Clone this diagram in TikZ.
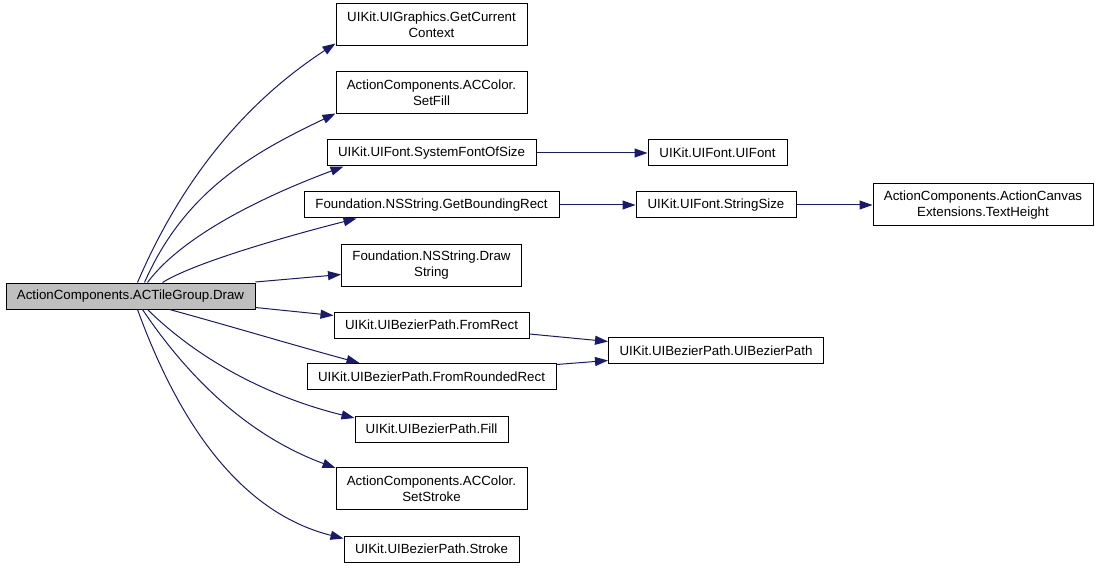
\documentclass[tikz,border=0pt]{standalone}
\usepackage{fontspec}
\setmainfont{Liberation Sans}
\usetikzlibrary{arrows.meta}
\definecolor{edgeblue}{RGB}{25,25,112}
\definecolor{rootgray}{RGB}{191,191,191}
\tikzset{
  fn/.style={draw=black, line width=1pt, fill=white, rectangle, inner sep=0pt,
    align=center, font=\fontsize{13.3}{16}\selectfont, text=black},
  rootbox/.style={fn, fill=rootgray},
  call/.style={draw=edgeblue, line width=1pt,
    -{Triangle[length=13pt,width=9pt]}, color=edgeblue}
}
\begin{document}
\begin{tikzpicture}[x=1pt,y=-1pt]
\useasboundingbox (0,0) rectangle (1099,569);

\node[rootbox, minimum width=249pt, minimum height=26pt] (root) at (130.5,296) {ActionComponents.ACTileGroup.Draw};

\node[fn, minimum width=191pt, minimum height=42pt] (gcc) at (431.5,25) {UIKit.UIGraphics.GetCurrent\\Context};
\node[fn, minimum width=191pt, minimum height=42pt] (setfill) at (431.5,93) {ActionComponents.ACColor.\\SetFill};
\node[fn, minimum width=209pt, minimum height=26pt] (sfos) at (431.5,153) {UIKit.UIFont.SystemFontOfSize};
\node[fn, minimum width=255pt, minimum height=26pt] (gbr) at (431.5,205) {Foundation.NSString.GetBoundingRect};
\node[fn, minimum width=180pt, minimum height=42pt] (drawstr) at (431.5,265) {Foundation.NSString.Draw\\String};
\node[fn, minimum width=195pt, minimum height=26pt] (fromrect) at (431.5,325) {UIKit.UIBezierPath.FromRect};
\node[fn, minimum width=249pt, minimum height=26pt] (fromrr) at (431.5,376.5) {UIKit.UIBezierPath.FromRoundedRect};
\node[fn, minimum width=153pt, minimum height=26pt] (fill) at (431.5,429) {UIKit.UIBezierPath.Fill};
\node[fn, minimum width=191pt, minimum height=42pt] (setstroke) at (431.5,488.5) {ActionComponents.ACColor.\\SetStroke};
\node[fn, minimum width=175pt, minimum height=26pt] (stroke) at (431.5,549) {UIKit.UIBezierPath.Stroke};

\node[fn, minimum width=139pt, minimum height=26pt] (uifont) at (717.5,153) {UIKit.UIFont.UIFont};
\node[fn, minimum width=160pt, minimum height=26pt] (strsize) at (716,205) {UIKit.UIFont.StringSize};
\node[fn, minimum width=215pt, minimum height=26pt] (uibp) at (716,350.5) {UIKit.UIBezierPath.UIBezierPath};

\node[fn, minimum width=220pt, minimum height=42pt] (textheight) at (983,205) {ActionComponents.ActionCanvas\\Extensions.TextHeight};

% edges from root (upper)
\draw[call] ([xshift=132pt]root.north west) .. controls (181,181) and (244,103) .. ([yshift=3pt]gcc.south west);
\draw[call] ([xshift=139pt]root.north west) .. controls (185,190) and (255,152) .. ([yshift=1pt]setfill.south west);
\draw[call] ([xshift=142pt]root.north west) .. controls (185,232) and (275,192) .. ([xshift=17pt]sfos.south west);
\draw[call] ([xshift=157pt]root.north west) .. controls (195,262) and (295,234) .. ([xshift=53pt]gbr.south west);
\draw[call] ([yshift=0.5pt]root.north east) -- ([yshift=-9.5pt]drawstr.west);
% edges from root (lower)
\draw[call] ([yshift=2pt]root.south east) -- ([yshift=-4pt]fromrect.north west);
\draw[call] ([xshift=164pt]root.south west) .. controls (230,326) and (300,347) .. ([xshift=53pt]fromrr.north west);
\draw[call] ([xshift=142pt]root.south west) .. controls (204,365) and (277,399) .. ([yshift=-2.5pt]fill.north west);
\draw[call] ([xshift=137pt]root.south west) .. controls (198,392) and (260,440) .. ([yshift=-1pt]setstroke.north west);
\draw[call] ([xshift=132pt]root.south west) .. controls (185,440) and (250,515) .. ([yshift=-3pt]stroke.north west);

% second level
\draw[call] (sfos.east) -- (uifont.west);
\draw[call] (gbr.east) -- (strsize.west);
\draw[call] (strsize.east) -- (textheight.west);
\draw[call] ([yshift=4.5pt]fromrect.south east) -- ([yshift=-4.5pt]uibp.north west);
\draw[call] ([yshift=-1.5pt]fromrr.north east) -- ([yshift=3.5pt]uibp.south west);
\end{tikzpicture}
\end{document}
